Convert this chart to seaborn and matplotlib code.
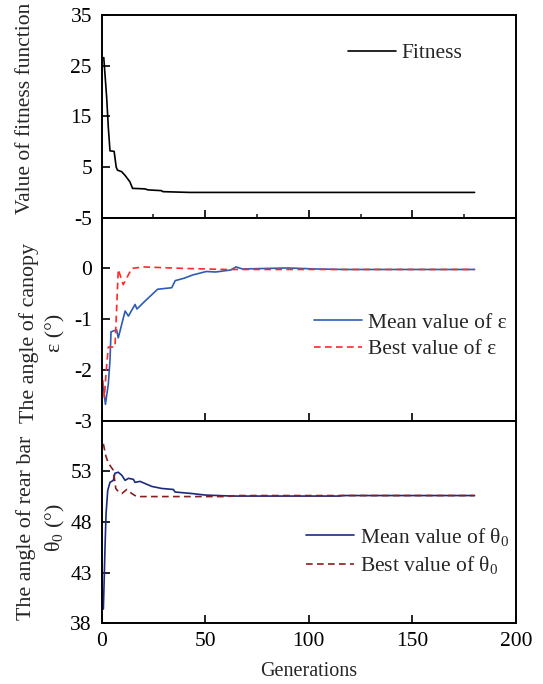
import numpy as np
import pandas as pd
import matplotlib
matplotlib.use("Agg")
import matplotlib.pyplot as plt
import seaborn as sns
from matplotlib.ticker import FixedLocator

# ---------------- data ----------------
gen_fit = [1, 2.4, 3.2, 4.0, 6.0, 7.0, 7.6, 9.6, 11.2, 13.6, 14.9, 20.8, 22.4, 28.8, 29.6, 42.5, 180]
fitness = [26.6, 18.7, 12.8, 8.2, 8.1, 5.0, 4.4, 4.1, 3.4, 2.1, 0.8, 0.7, 0.5, 0.35, 0.15, 0.0, 0.0]

gen_eps_mean = [0.8, 1.8, 3.2, 4.0, 4.5, 7.2, 8.0, 11.3, 12.9, 16.1, 17.0, 21.0, 27.0, 33.8,
                35.5, 40.0, 43.8, 50.5, 55.0, 62.3, 64.8, 68.0, 90.0, 103.0, 118.0, 180.0]
eps_mean = [-2.34, -2.68, -2.28, -1.81, -1.25, -1.21, -1.37, -0.84, -0.94, -0.71, -0.80, -0.64,
            -0.41, -0.38, -0.24, -0.19, -0.13, -0.06, -0.07, -0.03, 0.03, -0.01, 0.01, -0.01, -0.02, -0.02]

gen_eps_best = [0.5, 1.3, 2.2, 3.2, 6.4, 7.2, 8.0, 10.4, 14.5, 20.0, 27.0, 40.0, 60.0, 180.0]
eps_best = [-2.2, -2.54, -2.0, -1.55, -1.55, -0.8, -0.02, -0.32, 0.0, 0.03, 0.02, 0.0, -0.02, -0.02]

gen_th_mean = [0.8, 1.2, 1.6, 2.1, 2.9, 4.0, 5.6, 6.4, 8.0, 9.7, 11.3, 12.9, 15.3, 16.1, 18.5,
               24.2, 29.0, 34.6, 35.4, 43.5, 50.0, 63.0, 115.0, 116.0, 180.0]
th_mean = [39.4, 42.3, 45.5, 48.8, 51.1, 51.9, 52.1, 52.8, 52.9, 52.6, 52.1, 52.3, 52.2, 51.9, 52.0,
           51.5, 51.3, 51.2, 50.95, 50.8, 50.65, 50.55, 50.55, 50.6, 50.6]

gen_th_best = [0.8, 2.0, 3.2, 5.6, 6.8, 8.0, 9.7, 12.1, 14.5, 16.9, 60.0, 65.0, 180.0]
th_best = [55.7, 54.5, 53.8, 53.1, 51.3, 51.0, 50.8, 51.2, 50.8, 50.5, 50.5, 50.6, 50.6]

fit_ticks = [-5, 5, 15, 25, 35]
eps_ticks = [-3, -2, -1, 0]
th_ticks = [38, 43, 48, 53]
x_ticks = [0, 50, 100, 150, 200]

# ---------------- style ----------------
sns.set_style("ticks")
plt.rcParams["font.family"] = ["Liberation Serif", "DejaVu Serif"]
plt.rcParams["mathtext.fontset"] = "custom"
plt.rcParams["mathtext.rm"] = "Liberation Serif"
plt.rcParams["mathtext.it"] = "Liberation Serif:italic"
plt.rcParams["mathtext.bf"] = "Liberation Serif:bold"
plt.rcParams["axes.unicode_minus"] = False

FS = 15.5
fig = plt.figure(figsize=(5.43, 6.84), dpi=100)
gs = fig.add_gridspec(3, 1, left=101.7 / 543, right=516 / 543,
                      top=1 - 15 / 684, bottom=1 - 623.3 / 684, hspace=0)
ax1, ax2, ax3 = [fig.add_subplot(gs[i]) for i in range(3)]

lw = 1.2
dash = (0, (4, 2.6))
sns.lineplot(x=gen_fit, y=fitness, ax=ax1, color="black", lw=lw, label="Fitness",
             estimator=None, sort=False)
sns.lineplot(x=gen_eps_mean, y=eps_mean, ax=ax2, color="#2d5cb5", lw=lw,
             label="Mean value of ε", estimator=None, sort=False)
sns.lineplot(x=gen_eps_best, y=eps_best, ax=ax2, color="#ff2a2a", lw=lw, linestyle=dash,
             label="Best value of ε", estimator=None, sort=False)
sns.lineplot(x=gen_th_mean, y=th_mean, ax=ax3, color="#1b2a80", lw=lw,
             label="Mean value of θ$_0$", estimator=None, sort=False)
sns.lineplot(x=gen_th_best, y=th_best, ax=ax3, color="#8b1c1c", lw=lw, linestyle=dash,
             label="Best value of θ$_0$", estimator=None, sort=False)

ax1.set_ylim(-5, 35)
ax2.set_ylim(-3, 1)
ax3.set_ylim(38, 58)
ax1.yaxis.set_major_locator(FixedLocator(fit_ticks))
ax2.yaxis.set_major_locator(FixedLocator(eps_ticks))
ax3.yaxis.set_major_locator(FixedLocator(th_ticks))

for ax in (ax1, ax2, ax3):
    ax.set_xlim(0, 200)
    ax.xaxis.set_major_locator(FixedLocator(x_ticks))
    for s in ax.spines.values():
        s.set_visible(True)
        s.set_linewidth(1.4)
        s.set_color("black")
    ax.tick_params(axis="both", which="major", direction="in", length=5.8, width=1.2,
                   top=False, right=False, labelsize=FS, colors="black")
    ax.tick_params(axis="y", pad=7)
    ax.tick_params(axis="x", pad=6)
    ax.set_xlabel("")

ax1.xaxis.set_minor_locator(FixedLocator([25, 75, 125, 175]))
ax1.tick_params(axis="x", which="minor", direction="in", length=3, width=1.2, top=False)
ax1.tick_params(labelbottom=False)
ax2.tick_params(labelbottom=False)

ax3.set_xlabel("Generations", fontsize=14.5, labelpad=8)

ax1.set_ylabel("Value of fitness function", fontsize=FS)
ax2.set_ylabel("The angle of canopy\nε (°)", fontsize=15.8, linespacing=1.45)
ax3.set_ylabel("The angle of rear bar\nθ$_0$ (°)", fontsize=15.8, linespacing=1.45)
ax1.yaxis.set_label_coords(-0.183, 0.54)
ax2.yaxis.set_label_coords(-0.143, 0.43)
ax3.yaxis.set_label_coords(-0.145, 0.47)
for ax in (ax1, ax2, ax3):
    ax.yaxis.label.set_va("center")

leg_kw = dict(frameon=False, fontsize=FS, handlelength=2.25, handletextpad=0.25,
              borderpad=0, borderaxespad=0, labelspacing=0.3, loc="center left")
ax1.legend(bbox_to_anchor=(0.594, 0.812), **leg_kw)
ax2.legend(bbox_to_anchor=(0.512, 0.416), **leg_kw)
ax3.legend(bbox_to_anchor=(0.493, 0.356), **leg_kw)

fig.savefig("out.png", dpi=100)
